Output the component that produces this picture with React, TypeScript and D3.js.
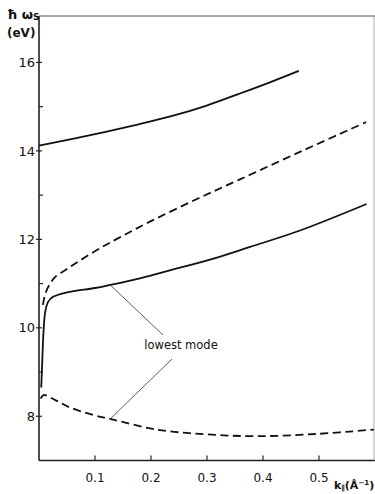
import React from "react";
import * as d3 from "d3";

// Top solid branch
const topK = [0.0, 0.06, 0.119, 0.178, 0.238, 0.298, 0.357, 0.41, 0.464];
const topE = [14.12, 14.27, 14.43, 14.6, 14.79, 15.02, 15.29, 15.54, 15.81];

// Upper dashed branch
const upDashK = [0.007, 0.012, 0.02, 0.029, 0.05, 0.073, 0.109, 0.145, 0.198, 0.28, 0.356, 0.47, 0.584];
const upDashE = [10.52, 10.8, 11.0, 11.15, 11.33, 11.52, 11.8, 12.05, 12.4, 12.9, 13.34, 14.0, 14.65];

// Lowest mode (solid)
const lowK = [0.004, 0.006, 0.008, 0.011, 0.016, 0.025, 0.05, 0.1, 0.127, 0.18, 0.243, 0.31, 0.377, 0.466, 0.585];
const lowE = [8.65, 9.3, 9.9, 10.35, 10.58, 10.7, 10.8, 10.9, 10.97, 11.12, 11.33, 11.56, 11.83, 12.2, 12.8];

// Lower dashed branch
const botK = [0.003, 0.008, 0.03, 0.055, 0.1, 0.127, 0.21, 0.3, 0.39, 0.496, 0.598];
const botE = [8.4, 8.48, 8.36, 8.2, 8.02, 7.94, 7.7, 7.59, 7.55, 7.6, 7.7];

const xTicks = [0.1, 0.2, 0.3, 0.4, 0.5];
const xTickLabels = ["0.1", "0.2", "0.3", "0.4", "0.5"];
const yMajor = [8, 10, 12, 14, 16];
const yMinor = [9, 11, 13, 15];

const annotationText = "lowest mode";
const annotK = 0.13;

export default function App() {
  const W = 375, H = 494;
  const x = d3.scaleLinear().domain([0, 0.6]).range([39, 375]);
  const y = d3.scaleLinear().domain([7, 17.05]).range([460.5, 16]);
  const line = d3
    .line<[number, number]>()
    .x((d) => x(d[0]))
    .y((d) => y(d[1]))
    .curve(d3.curveCatmullRom.alpha(0.5));
  const zip = (a: number[], b: number[]) => a.map((v, i) => [v, b[i]] as [number, number]);

  const lowInterp = d3.scaleLinear().domain(lowK).range(lowE);
  const botInterp = d3.scaleLinear().domain(botK).range(botE);
  const p1 = [x(annotK) - 2, y(lowInterp(annotK))];
  const p2 = [x(annotK) - 2, y(botInterp(annotK))];
  const font = "'DejaVu Sans', 'Liberation Sans', sans-serif";

  return (
    <svg
      width={W}
      height={H}
      style={{ position: "absolute", left: 0, top: 0, background: "#fff" }}
      fontFamily={font}
    >
      {/* frame */}
      <line x1={x(0)} x2={x(0)} y1={y(17.05)} y2={y(7)} stroke="#222" strokeWidth={1.6} />
      <line x1={x(0)} x2={375} y1={y(7)} y2={y(7)} stroke="#222" strokeWidth={1.6} />
      <line x1={x(0)} x2={375} y1={y(17.05)} y2={y(17.05)} stroke="#555" strokeWidth={1} />
      <line x1={374} x2={374} y1={y(17.05)} y2={y(7)} stroke="#999" strokeWidth={0.8} />

      {/* y ticks */}
      {yMajor.map((v) => (
        <g key={"ym" + v}>
          <line x1={x(0) - 3} x2={x(0) + 3} y1={y(v)} y2={y(v)} stroke="#222" strokeWidth={1.2} />
          <text x={35} y={y(v)} dy="0.36em" textAnchor="end" fontSize={13} fill="#111">
            {v}
          </text>
        </g>
      ))}
      {yMinor.map((v) => (
        <line key={"yn" + v} x1={x(0)} x2={x(0) + 4} y1={y(v)} y2={y(v)} stroke="#222" strokeWidth={1.2} />
      ))}

      {/* x ticks */}
      {xTicks.map((v, i) => (
        <g key={"x" + v}>
          <line x1={x(v)} x2={x(v)} y1={y(7)} y2={y(7) - 5} stroke="#222" strokeWidth={1.2} />
          <text x={x(v)} y={482} textAnchor="middle" fontSize={12} fill="#111">
            {xTickLabels[i]}
          </text>
        </g>
      ))}

      {/* axis labels */}
      <text x={7} y={19} fontSize={13} fill="#111" fontWeight="bold">
        ħ ω
        <tspan fontSize={9} dy={1}>S</tspan>
      </text>
      <text x={7} y={37} fontSize={12} fill="#111" fontWeight="bold">
        (eV)
      </text>
      <text x={334} y={489} fontSize={11} fill="#111" fontWeight="bold">
        k<tspan fontSize={7} dy={1}>∥</tspan>
        <tspan dy={-1}>(Å</tspan>
        <tspan fontSize={7} dy={-4}>−1</tspan>
        <tspan dy={4}>)</tspan>
      </text>

      {/* curves */}
      <path d={line(zip(topK, topE)) || ""} fill="none" stroke="#111" strokeWidth={1.8} />
      <path d={line(zip(upDashK, upDashE)) || ""} fill="none" stroke="#111" strokeWidth={1.8} strokeDasharray="8,4.5" />
      <path d={line(zip(lowK, lowE)) || ""} fill="none" stroke="#111" strokeWidth={1.8} />
      <path d={line(zip(botK, botE)) || ""} fill="none" stroke="#111" strokeWidth={1.8} strokeDasharray="8,4.5" />

      {/* annotation */}
      <line x1={p1[0]} y1={p1[1]} x2={163} y2={335} stroke="#333" strokeWidth={0.8} />
      <line x1={172} y1={359} x2={p2[0]} y2={p2[1]} stroke="#333" strokeWidth={0.8} />
      <text x={181} y={349} textAnchor="middle" fontSize={11.5} fill="#111">
        {annotationText}
      </text>
    </svg>
  );
}
